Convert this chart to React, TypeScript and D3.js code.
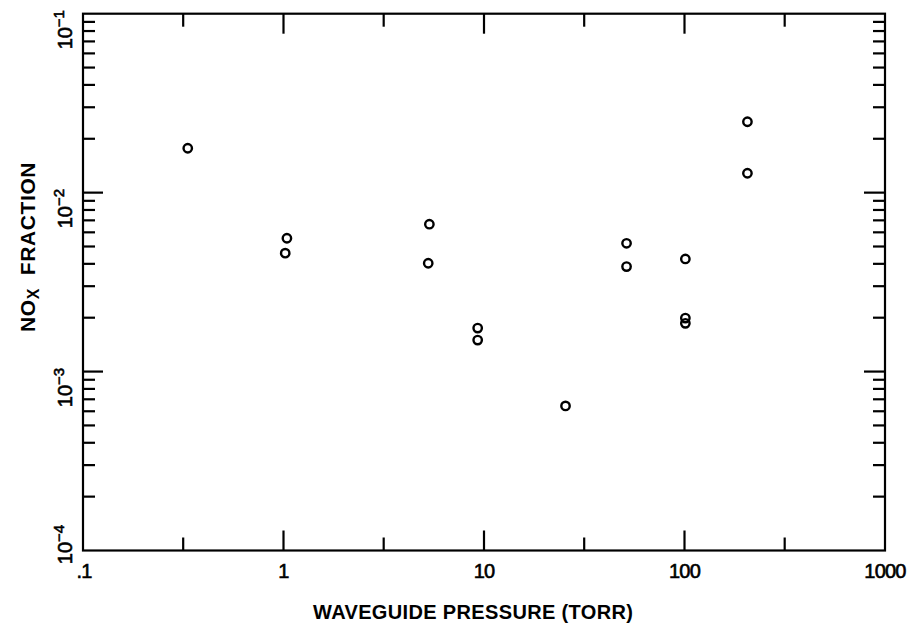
import React, { useEffect, useRef } from 'react';
import * as d3 from 'd3';

// measured pressure (torr) vs NOx fraction
const pressure = [0.333, 1.04, 1.02, 5.34, 5.27, 9.3, 9.3, 25.5, 51.4, 51.4, 101, 101, 101, 206, 206];
const noxFraction = [0.0177, 0.00556, 0.00459, 0.00666, 0.00403, 0.00175, 0.0015, 0.000643, 0.00521, 0.00386, 0.00426, 0.00199, 0.00186, 0.0249, 0.01283];

const xMajorTicks = [0.1, 1, 10, 100, 1000];
const xMinorTicks = [0.316, 3.16, 31.6, 316];
const xTickLabels = ['.1', '1', '10', '100', '1000'];
const yMajorTicks = [1e-1, 1e-2, 1e-3, 1e-4];
const yExponents = ['−1', '−2', '−3', '−4'];

const App: React.FC = () => {
  const svgRef = useRef<SVGSVGElement | null>(null);

  useEffect(() => {
    const svg = d3.select(svgRef.current);
    svg.selectAll('*').remove();

    const left = 83, right = 885, top = 13.7, bottom = 550.5;
    const x = d3.scaleLog().domain([0.1, 1000]).range([left, right]);
    const y = d3.scaleLog().domain([1e-4, 1e-1]).range([bottom, top]);

    const g = svg.append('g').attr('stroke', '#000').attr('stroke-width', 2.2).attr('fill', 'none');

    // frame
    g.append('rect')
      .attr('x', left).attr('y', top)
      .attr('width', right - left).attr('height', bottom - top);

    // x ticks, bottom and top, pointing in
    const xt = (vals: number[], len: number) => {
      vals.forEach((v) => {
        if (v <= 0.1 || v >= 1000) return;
        g.append('line').attr('x1', x(v)).attr('x2', x(v)).attr('y1', bottom).attr('y2', bottom - len);
        g.append('line').attr('x1', x(v)).attr('x2', x(v)).attr('y1', top).attr('y2', top + len);
      });
    };
    xt(xMajorTicks, 20);
    xt(xMinorTicks, 13);

    // y ticks, left and right
    const yMinor = y.ticks().filter((v) => !yMajorTicks.some((m) => Math.abs(v / m - 1) < 1e-6));
    yMinor.forEach((v) => {
      g.append('line').attr('x1', left).attr('x2', left + 12).attr('y1', y(v)).attr('y2', y(v));
      g.append('line').attr('x1', right).attr('x2', right - 12).attr('y1', y(v)).attr('y2', y(v));
    });
    yMajorTicks.slice(1, 3).forEach((v) => {
      g.append('line').attr('x1', left).attr('x2', left + 20).attr('y1', y(v)).attr('y2', y(v));
      g.append('line').attr('x1', right).attr('x2', right - 21).attr('y1', y(v)).attr('y2', y(v));
    });

    // points
    svg.append('g')
      .selectAll('circle')
      .data(pressure.map((p, i) => [p, noxFraction[i]]))
      .join('circle')
      .attr('cx', (d) => x(d[0]))
      .attr('cy', (d) => y(d[1]))
      .attr('r', 4.2)
      .attr('fill', 'none')
      .attr('stroke', '#000')
      .attr('stroke-width', 2.4);

    const font = 'Liberation Sans, Arial, Helvetica, sans-serif';

    // x tick labels
    svg.append('g')
      .selectAll('text')
      .data(xMajorTicks)
      .join('text')
      .attr('x', (d) => x(d) + (d === 0.1 ? 1 : 0))
      .attr('y', 578)
      .attr('text-anchor', 'middle')
      .attr('font-family', font)
      .attr('font-size', 20)
      .attr('letter-spacing', -0.8)
      .attr('fill', '#000')
      .attr('stroke', '#000')
      .attr('stroke-width', 0.6)
      .text((d, i) => xTickLabels[i]);

    // y tick labels, rotated
    yMajorTicks.forEach((v, i) => {
      const cy = i === yMajorTicks.length - 1 ? y(v) - 6 : y(v) + 16;
      const t = svg.append('text')
        .attr('transform', `translate(72,${cy}) rotate(-90)`)
        .attr('text-anchor', 'middle')
        .attr('font-family', font)
        .attr('font-size', 20)
        .attr('fill', '#000')
        .attr('stroke', '#000')
        .attr('stroke-width', 0.6);
      t.append('tspan').text('10');
      t.append('tspan').attr('dy', -8).attr('font-size', 15).text(yExponents[i]);
    });

    // axis titles
    svg.append('text')
      .attr('x', 473)
      .attr('y', 619)
      .attr('text-anchor', 'middle')
      .attr('font-family', font)
      .attr('font-weight', 'bold')
      .attr('font-size', 20)
      .attr('textLength', 320)
      .attr('fill', '#000')
      .text('WAVEGUIDE PRESSURE (TORR)');

    const yt = svg.append('text')
      .attr('transform', 'translate(35,247) rotate(-90)')
      .attr('text-anchor', 'middle')
      .attr('font-family', font)
      .attr('font-weight', 'bold')
      .attr('font-size', 21)
      .attr('letter-spacing', 0.6)
      .attr('fill', '#000');
    yt.append('tspan').text('NO');
    yt.append('tspan').attr('dy', 4).attr('font-size', 16).text('X');
    yt.append('tspan').attr('dy', -4).text('\u00a0 FRACTION');
  }, []);

  return (
    <svg ref={svgRef} width="914" height="630" style={{ position: 'absolute', left: 0, top: 0, background: '#fff' }} />
  );
};

export default App;
